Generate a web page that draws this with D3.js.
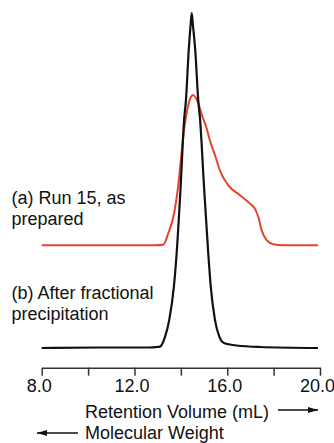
<!DOCTYPE html>
<html>
<head>
<meta charset="utf-8">
<script src="https://cdn.jsdelivr.net/npm/d3@7"></script>
<style>
    body { margin: 0; background: #fff; }
    text { font-family: "Liberation Sans", Arial, sans-serif; fill: #111; }
</style>
</head>
<body>
<div id="chart"></div>
<script>
// Retention volume (mL) and detector response for each trace
const volumeA = [8.0, 12.88, 13.24, 13.46, 13.72, 13.88, 14.00, 14.12, 14.20, 14.32, 14.43, 14.53,
    14.65, 14.75, 14.91, 15.11, 15.25, 15.47, 15.70, 16.04, 16.55, 16.98, 17.19, 17.34, 17.48, 17.70, 17.98, 18.40, 19.91];
const signalA = [0, 0, 0.15, 3.6, 9.9, 17.4, 25.4, 33.4, 37.3, 41.8, 44.2, 44.8,
    43.9, 42.3, 38.8, 34.9, 31.3, 26.9, 22.0, 17.9, 14.9, 12.4, 10.9, 8.4, 4.5, 1.5, 0.3, 0, 0];
const offsetA = 30.7;

const volumeB = [8.0, 10.5, 12.67, 12.97, 13.10, 13.32, 13.50, 13.70, 13.82, 13.99, 14.14, 14.22, 14.34, 14.42, 14.47,
    14.52, 14.62, 14.75, 14.83, 15.00, 15.18, 15.29, 15.47, 15.66, 15.86, 16.41, 17.41, 19.91];
const signalB = [0, 0.15, 0.15, 0.3, 0.4, 3.4, 8.4, 18.3, 28.4, 48.1, 68.1, 74.0, 89.0, 96.4, 100,
    96.4, 89.0, 74.0, 68.1, 48.1, 28.4, 18.3, 8.4, 3.4, 1.5, 0.75, 0.3, 0];

const tickValues = [8, 10, 12, 14, 16, 18, 20];
const labelledTicks = [8, 12, 16, 20];

const width = 334, height = 443;

const svg = d3.select("#chart")
    .append("svg")
    .attr("width", width)
    .attr("height", height);

svg.append("defs").append("marker")
    .attr("id", "head")
    .attr("viewBox", "0 0 10 6")
    .attr("refX", 10)
    .attr("refY", 3)
    .attr("markerWidth", 10)
    .attr("markerHeight", 6)
    .attr("markerUnits", "userSpaceOnUse")
    .attr("orient", "auto")
    .append("path")
    .attr("d", "M0,0 L10,3 L0,6 Z")
    .attr("fill", "#111");

// Scales
const x = d3.scaleLinear().domain([8, 20]).range([41.7, 320]);
const y = d3.scaleLinear().domain([0, 100]).range([348, 13]);

const line = d3.line()
    .x(d => x(d[0]))
    .y(d => y(d[1]))
    .curve(d3.curveMonotoneX);

const traceA = volumeA.map((v, i) => [v, signalA[i] + offsetA]);
const traceB = volumeB.map((v, i) => [v, signalB[i]]);

svg.append("path")
    .attr("d", line(traceA))
    .attr("fill", "none")
    .attr("stroke", "#e0462a")
    .attr("stroke-width", 2);

svg.append("path")
    .attr("d", line(traceB))
    .attr("fill", "none")
    .attr("stroke", "#111")
    .attr("stroke-width", 2.2);

// X axis
const axisY = 367.7;
const xAxis = d3.axisBottom(x)
    .tickValues(tickValues)
    .tickSize(8)
    .tickSizeOuter(0)
    .tickPadding(4)
    .tickFormat(d => labelledTicks.includes(d) ? d3.format(".1f")(d) : "");

const axisGroup = svg.append("g")
    .attr("transform", `translate(0, ${axisY})`)
    .call(xAxis);

axisGroup.select(".domain").attr("stroke", "#333").attr("stroke-width", 1.5);
axisGroup.selectAll(".tick line").attr("stroke", "#333").attr("stroke-width", 1.5);
axisGroup.selectAll(".tick text")
    .attr("dx", -3)
    .style("font-size", "18px")
    .style("font-family", "'Liberation Sans', Arial, sans-serif")
    .attr("fill", "#111");

// Axis titles
svg.append("text")
    .attr("x", 85)
    .attr("y", 417.5)
    .style("font-size", "18px")
    .text("Retention Volume (mL)");

svg.append("line")
    .attr("x1", 278).attr("x2", 318)
    .attr("y1", 410).attr("y2", 410)
    .attr("stroke", "#111")
    .attr("stroke-width", 1.5)
    .attr("marker-end", "url(#head)");

svg.append("text")
    .attr("x", 85)
    .attr("y", 439)
    .style("font-size", "18px")
    .text("Molecular Weight");

svg.append("line")
    .attr("x1", 78).attr("x2", 37)
    .attr("y1", 433).attr("y2", 433)
    .attr("stroke", "#111")
    .attr("stroke-width", 1.5)
    .attr("marker-end", "url(#head)");

// Trace labels
const labels = [
    { lines: ["(a) Run 15, as", "prepared"], y: 204.3 },
    { lines: ["(b) After fractional", "precipitation"], y: 299.3 }
];

labels.forEach(l => {
    const t = svg.append("text")
        .attr("x", 11.5)
        .attr("y", l.y)
        .style("font-size", "18px");
    l.lines.forEach((s, i) => {
        t.append("tspan")
            .attr("x", 11.5)
            .attr("dy", i === 0 ? 0 : 21)
            .text(s);
    });
});
</script>
</body>
</html>
